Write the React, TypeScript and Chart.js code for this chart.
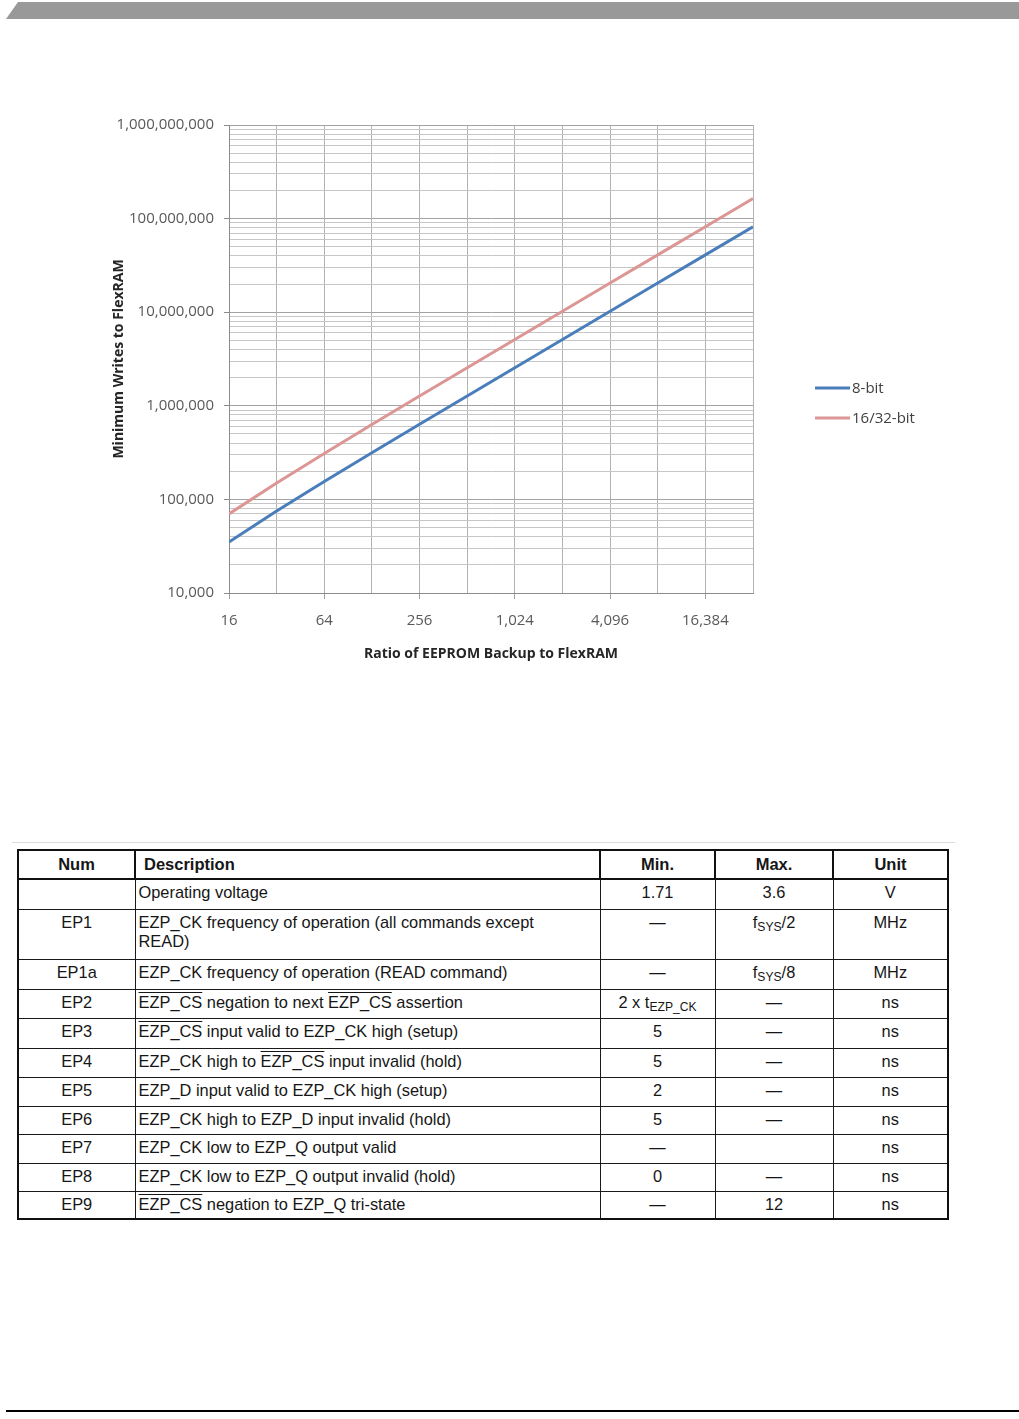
import React, { useEffect, useRef } from "react";
import { Chart, registerables } from "chart.js";

Chart.register(...registerables);

// ---- Data ----
const ratios = [16, 32, 64, 128, 256, 512, 1024, 2048, 4096, 8192, 16384, 32768];
const writes8bit = [35000, 75000, 155000, 315000, 635000, 1275000, 2555000, 5115000, 10235000, 20475000, 40955000, 81915000];
const writes16bit = [70000, 150000, 310000, 630000, 1270000, 2550000, 5110000, 10230000, 20470000, 40950000, 81910000, 163830000];
const seriesLabels = ["8-bit", "16/32-bit"];

const xLabelValues = [16, 64, 256, 1024, 4096, 16384];
const xTickLabels = ["16", "64", "256", "1,024", "4,096", "16,384"];
const yDecades = [10000, 100000, 1000000, 10000000, 100000000, 1000000000];
const yTickLabels = ["10,000", "100,000", "1,000,000", "10,000,000", "100,000,000", "1,000,000,000"];
const yMinorSteps = [2, 3, 4, 5, 6, 7, 8, 9];

const FONT = "'Open Sans', 'DejaVu Sans', sans-serif";

const sideLegend = {
  id: "sideLegend",
  afterDraw(chart: any) {
    const { ctx, chartArea } = chart;
    const x0 = chartArea.right + 62;
    const mid = (chartArea.top + chartArea.bottom) / 2;
    chart.data.datasets.forEach((ds: any, i: number) => {
      const y = mid + 29 + i * 30;
      ctx.save();
      ctx.strokeStyle = ds.borderColor;
      ctx.lineWidth = 3;
      ctx.beginPath();
      ctx.moveTo(x0, y);
      ctx.lineTo(x0 + 35, y);
      ctx.stroke();
      ctx.fillStyle = "#404040";
      ctx.font = "15px " + FONT;
      ctx.textBaseline = "middle";
      ctx.fillText(ds.label, x0 + 37, y + 1);
      ctx.restore();
    });
  },
};

function EnduranceChart() {
  const ref = useRef<HTMLCanvasElement | null>(null);
  useEffect(() => {
    if (!ref.current) return;
    const yTicks: number[] = [];
    yDecades.forEach((d, i) => {
      yTicks.push(d);
      if (i < yDecades.length - 1) yMinorSteps.forEach((m) => yTicks.push(m * d));
    });
    const chart = new Chart(ref.current, {
      type: "line",
      data: {
        datasets: [
          {
            label: seriesLabels[0],
            data: ratios.map((r, i) => ({ x: r, y: writes8bit[i] })),
            borderColor: "#4a7ebb",
            borderWidth: 3,
            pointRadius: 0,
            tension: 0,
          },
          {
            label: seriesLabels[1],
            data: ratios.map((r, i) => ({ x: r, y: writes16bit[i] })),
            borderColor: "#dc9694",
            borderWidth: 3,
            pointRadius: 0,
            tension: 0,
          },
        ],
      },
      options: {
        animation: false,
        responsive: false,
        devicePixelRatio: 1,
        layout: { padding: { top: 25, right: 207, left: 0, bottom: 0 } },
        plugins: { legend: { display: false }, tooltip: { enabled: false } },
        scales: {
          x: {
            type: "logarithmic",
            min: 16,
            max: 32768,
            afterBuildTicks: (s: any) => {
              s.ticks = ratios.map((v) => ({ value: v }));
            },
            afterFit: (s: any) => {
              s.height = 87;
            },
            ticks: {
              autoSkip: false,
              maxRotation: 0,
              padding: 13,
              color: "#595959",
              font: { family: FONT, size: 15 },
              callback: (v: any) => {
                const i = xLabelValues.indexOf(Number(v));
                return i >= 0 ? xTickLabels[i] : "";
              },
            },
            grid: {
              color: "#b3b3b3",
              lineWidth: 1,
              tickLength: 6,
              tickColor: (c: any) =>
                c.tick && xLabelValues.includes(c.tick.value) ? "#a0a0a0" : "rgba(0,0,0,0)",
            },
            border: { display: true, color: "#8c8c8c" },
            title: {
              display: true,
              text: "Ratio of EEPROM Backup to FlexRAM",
              color: "#262626",
              font: { family: FONT, size: 14, weight: "bold" },
              padding: { top: 0, bottom: 18 },
            },
          },
          y: {
            type: "logarithmic",
            min: 10000,
            max: 1000000000,
            afterBuildTicks: (s: any) => {
              s.ticks = yTicks.map((v) => ({ value: v }));
            },
            afterFit: (s: any) => {
              s.width = 129;
            },
            ticks: {
              autoSkip: false,
              padding: 10,
              color: "#595959",
              font: { family: FONT, size: 15 },
              callback: (v: any) => {
                const i = yDecades.indexOf(Number(v));
                return i >= 0 ? yTickLabels[i] : "";
              },
            },
            grid: {
              color: (c: any) =>
                c.tick && yDecades.includes(c.tick.value) ? "#a3a3a3" : "#c6c6c6",
              lineWidth: 1,
              tickLength: 5,
              tickColor: (c: any) =>
                c.tick && yDecades.includes(c.tick.value) ? "#8c8c8c" : "rgba(0,0,0,0)",
            },
            border: { display: true, color: "#8c8c8c" },
            title: {
              display: true,
              text: "Minimum Writes to FlexRAM",
              color: "#262626",
              font: { family: FONT, size: 14, weight: "bold" },
              padding: { top: 11, bottom: 0 },
            },
          },
        },
      } as any,
      plugins: [sideLegend],
    });
    return () => chart.destroy();
  }, []);
  return <canvas ref={ref} width={860} height={580} style={{ display: "block" }} />;
}

// ---- Table content ----
const OL = ({ children }: { children: React.ReactNode }) => (
  <span style={{ textDecoration: "overline" }}>{children}</span>
);
const Sub = ({ children }: { children: React.ReactNode }) => (
  <span style={{ fontSize: "0.74em", position: "relative", top: "3px" }}>{children}</span>
);

type Row = { num: string; desc: React.ReactNode; min: React.ReactNode; max: React.ReactNode; unit: string; h: number };

const rows: Row[] = [
  { num: "", desc: "Operating voltage", min: "1.71", max: "3.6", unit: "V", h: 30 },
  {
    num: "EP1",
    desc: (
      <>
        EZP_CK frequency of operation (all commands except
        <br />
        READ)
      </>
    ),
    min: "—",
    max: (
      <>
        f<Sub>SYS</Sub>/2
      </>
    ),
    unit: "MHz",
    h: 50,
  },
  { num: "EP1a", desc: "EZP_CK frequency of operation (READ command)", min: "—", max: (<>f<Sub>SYS</Sub>/8</>), unit: "MHz", h: 30 },
  {
    num: "EP2",
    desc: (
      <>
        <OL>EZP_CS</OL> negation to next <OL>EZP_CS</OL> assertion
      </>
    ),
    min: (
      <>
        2 x t<Sub>EZP_CK</Sub>
      </>
    ),
    max: "—",
    unit: "ns",
    h: 29,
  },
  { num: "EP3", desc: (<><OL>EZP_CS</OL> input valid to EZP_CK high (setup)</>), min: "5", max: "—", unit: "ns", h: 30 },
  { num: "EP4", desc: (<>EZP_CK high to <OL>EZP_CS</OL> input invalid (hold)</>), min: "5", max: "—", unit: "ns", h: 29 },
  { num: "EP5", desc: "EZP_D input valid to EZP_CK high (setup)", min: "2", max: "—", unit: "ns", h: 29 },
  { num: "EP6", desc: "EZP_CK high to EZP_D input invalid (hold)", min: "5", max: "—", unit: "ns", h: 28 },
  { num: "EP7", desc: "EZP_CK low to EZP_Q output valid", min: "—", max: "", unit: "ns", h: 29 },
  { num: "EP8", desc: "EZP_CK low to EZP_Q output invalid (hold)", min: "0", max: "—", unit: "ns", h: 28 },
  { num: "EP9", desc: (<><OL>EZP_CS</OL> negation to EZP_Q tri-state</>), min: "—", max: "12", unit: "ns", h: 28 },
];

const cell: React.CSSProperties = {
  border: "1px solid #1a1a1a",
  verticalAlign: "top",
  paddingTop: 3,
  paddingBottom: 0,
  lineHeight: "19px",
  textAlign: "center",
  paddingLeft: 0,
  paddingRight: 0,
};
const head: React.CSSProperties = {
  border: "2px solid #111",
  fontWeight: "bold",
  fontSize: 16.5,
  textAlign: "center",
  verticalAlign: "middle",
  padding: 0,
  lineHeight: "19px",
};

function SpecTable() {
  return (
    <table
      style={{
        position: "absolute",
        left: 17,
        top: 849,
        width: 930,
        borderCollapse: "collapse",
        tableLayout: "fixed",
        fontFamily: "'Liberation Sans', Arial, sans-serif",
        fontSize: 16.4,
        color: "#161616",
        border: "2px solid #111",
      }}
    >
      <colgroup>
        <col style={{ width: 117 }} />
        <col style={{ width: 465 }} />
        <col style={{ width: 115 }} />
        <col style={{ width: 118 }} />
        <col style={{ width: 115 }} />
      </colgroup>
      <thead>
        <tr style={{ height: 29 }}>
          <th style={head}>Num</th>
          <th style={{ ...head, textAlign: "left", paddingLeft: 8 }}>Description</th>
          <th style={head}>Min.</th>
          <th style={head}>Max.</th>
          <th style={head}>Unit</th>
        </tr>
      </thead>
      <tbody>
        {rows.map((r, i) => (
          <tr key={i} style={{ height: r.h }}>
            <td style={cell}>{r.num}</td>
            <td style={{ ...cell, textAlign: "left", paddingLeft: 3 }}>{r.desc}</td>
            <td style={cell}>{r.min}</td>
            <td style={cell}>{r.max}</td>
            <td style={cell}>{r.unit}</td>
          </tr>
        ))}
      </tbody>
    </table>
  );
}

export default function App() {
  return (
    <div style={{ position: "absolute", left: 0, top: 0, width: 1019, height: 1419, background: "#fff", overflow: "hidden" }}>
      <div
        style={{
          position: "absolute",
          left: 0,
          top: 0,
          width: 1019,
          height: 20,
          background: "#999999",
          clipPath: "polygon(18px 2px, 1019px 2px, 1019px 19px, 6px 19px)",
        }}
      />
      <div style={{ position: "absolute", left: 100, top: 100, width: 860, height: 580 }}>
        <EnduranceChart />
      </div>
      <div style={{ position: "absolute", left: 12, top: 842, width: 943, height: 1, background: "#dcdcdc" }} />
      <SpecTable />
      <div style={{ position: "absolute", left: 6, top: 1410, width: 1013, height: 2, background: "#000" }} />
    </div>
  );
}
